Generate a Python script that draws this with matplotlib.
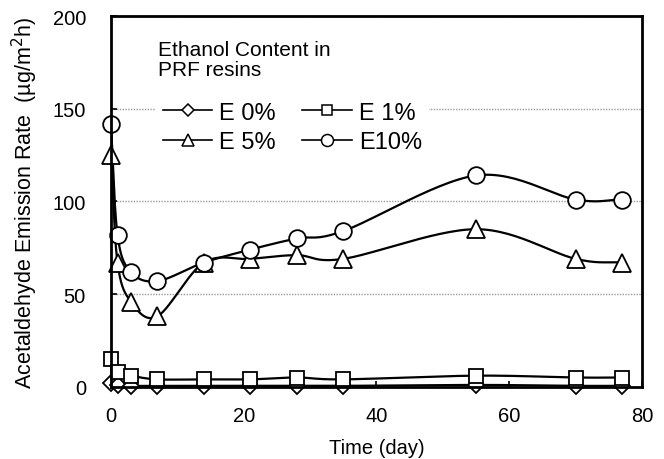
import numpy as np
import matplotlib
matplotlib.use('Agg')
import matplotlib.pyplot as plt
from matplotlib.lines import Line2D

plt.rcParams['font.family'] = ['Liberation Sans', 'DejaVu Sans']

days = [0, 1, 3, 7, 14, 21, 28, 35, 55, 70, 77]
e0 = [2, 1, 0.5, 0.5, 0.5, 0.5, 0.5, 0.5, 1, 0.5, 0.5]
e1 = [15, 8, 6, 4, 4, 4, 5, 4, 6, 5, 5]
e5 = [125, 67, 46, 38, 67, 69, 71, 69, 85, 69, 67]
e10 = [142, 82, 62, 57, 67, 74, 80, 84, 114, 101, 101]

SERIES = [('E 0%', e0, 'D', 8), ('E 1%', e1, 's', 10),
          ('E 5%', e5, '^', 12.5), ('E10%', e10, 'o', 12)]


def smooth(x, y, n=30):
    # Catmull-Rom through the points, like a spreadsheet "smoothed line"
    x = np.asarray(x, float); y = np.asarray(y, float)
    px = np.concatenate([[2*x[0]-x[1]], x, [2*x[-1]-x[-2]]])
    py = np.concatenate([[2*y[0]-y[1]], y, [2*y[-1]-y[-2]]])
    ox, oy = [], []
    t = np.linspace(0, 1, n)
    for i in range(1, len(px) - 2):
        for arr, out in ((px, ox), (py, oy)):
            p0, p1, p2, p3 = arr[i-1:i+3]
            out.extend(0.5*((2*p1) + (-p0+p2)*t + (2*p0-5*p1+4*p2-p3)*t**2
                            + (-p0+3*p1-3*p2+p3)*t**3))
    return np.array(ox), np.array(oy)


fig = plt.figure(figsize=(6.64, 4.6), dpi=100)
ax = fig.add_axes([0.167, 0.157, 0.80, 0.806])

for label, vals, mk, ms in SERIES:
    sx, sy = smooth(days, vals)
    ax.plot(sx, sy, color='black', lw=1.6, zorder=3)
    ax.plot(days, vals, ls='none', marker=mk, ms=ms, mfc='white', mec='black',
            mew=1.3, zorder=4, clip_on=False)

ax.set_xlim(0, 80)
ax.set_ylim(0, 200)
ax.set_xticks([0, 20, 40, 60, 80])
ax.set_yticks([0, 50, 100, 150, 200])
ax.yaxis.grid(True, color='#999999', ls=(0, (1, 1)), lw=1)
ax.set_axisbelow(True)
ax.tick_params(direction='in', length=4, width=1.2, labelsize=14.5)
ax.tick_params(axis='x', pad=14)
ax.tick_params(axis='y', pad=18)
for s in ax.spines.values():
    s.set_linewidth(2)
    s.set_zorder(5)

ax.set_xlabel('Time (day)', fontsize=14.5, labelpad=9)
ax.set_ylabel('Acetaldehyde Emission Rate  (µg/m$^2$h)', fontsize=15.5,
              labelpad=9)

ax.text(0.0885, 0.935, 'Ethanol Content in\nPRF resins', transform=ax.transAxes,
        fontsize=15, ha='left', va='top', linespacing=1.08, zorder=7)

handles = [Line2D([], [], color='black', lw=1.2, marker=mk, ms=ms*0.72,
                  mfc='white', mec='black', mew=1.1) for _, _, mk, ms in SERIES]
order = [0, 2, 1, 3]
leg = ax.legend([handles[i] for i in order], [SERIES[i][0] for i in order],
                ncol=2, loc='center left', bbox_to_anchor=(0.062, 0.70),
                fontsize=17, frameon=True, framealpha=1, edgecolor='none',
                facecolor='white', handlelength=2.1, handletextpad=0.3,
                columnspacing=1.1, labelspacing=0.3, borderpad=0.3,
                fancybox=False)
leg.set_zorder(6)

fig.savefig('out.png', dpi=100)
